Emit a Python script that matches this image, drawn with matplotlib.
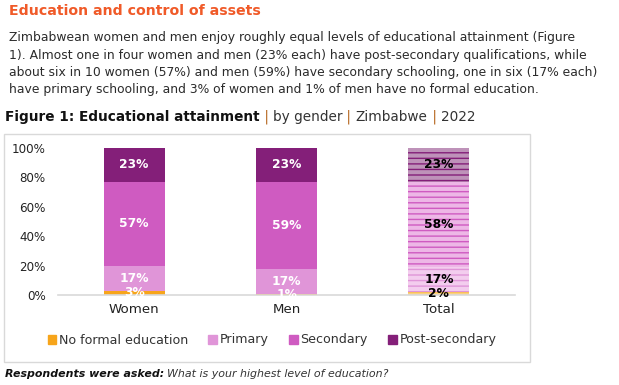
import matplotlib
matplotlib.use("Agg")
import matplotlib.pyplot as plt
from matplotlib.patches import Rectangle

categories = ["Women", "Men", "Total"]
series_names = ["No formal education", "Primary", "Secondary", "Post-secondary"]
no_formal = [3, 1, 2]
primary = [17, 17, 17]
secondary = [57, 59, 58]
post_secondary = [23, 23, 23]
yticks = [0, 20, 40, 60, 80, 100]
ytick_labels = ["0%", "20%", "40%", "60%", "80%", "100%"]

colors = ["#F7A51B", "#E095D8", "#CF5BC1", "#841F79"]
hatch_face = ["#FBD17F", "#F3CDEE", "#EDB7E6", "#BE92B9"]

plt.rcParams['font.family'] = ['DejaVu Sans']
plt.rcParams['hatch.linewidth'] = 1.0

W, H = 619, 385
fig = plt.figure(figsize=(W/100, H/100), dpi=100)

def px(x, y):
    return x / W, 1 - y / H

# Headline
fig.text(*px(9, 11), "Education and control of assets", color="#F05A28",
         fontsize=10.2, fontweight="bold", va="center", ha="left")
body = ["Zimbabwean women and men enjoy roughly equal levels of educational attainment (Figure",
        "1). Almost one in four women and men (23% each) have post-secondary qualifications, while",
        "about six in 10 women (57%) and men (59%) have secondary schooling, one in six (17% each)",
        "have primary schooling, and 3% of women and 1% of men have no formal education."]
for i, line in enumerate(body):
    fig.text(*px(9, 38 + i * 17.3), line, color="#2b2b2b", fontsize=8.95,
             va="center", ha="left")

# Figure title with mixed styles
renderer = fig.canvas.get_renderer()
parts = [("Figure 1: Educational attainment", "bold", "#111111"),
         (" | ", "normal", "#B5651D"), ("by gender", "normal", "#333333"),
         (" | ", "normal", "#B5651D"), ("Zimbabwe", "normal", "#333333"),
         (" | ", "normal", "#B5651D"), ("2022", "normal", "#333333")]
xcur = 5
for txt, wt, col in parts:
    t = fig.text(*px(xcur, 117), txt, fontsize=9.8, fontweight=wt, color=col,
                 va="center", ha="left")
    bb = t.get_window_extent(renderer=renderer)
    xcur += bb.width

# Chart border
fig.patches.append(Rectangle(px(4, 362), 526 / W, (362 - 134) / H,
                             transform=fig.transFigure, fill=False,
                             edgecolor="#D9D9D9", linewidth=1.0))

ax = fig.add_axes([58 / W, 1 - 295 / H, (515 - 58) / W, (295 - 148) / H])
ax.set_xlim(-0.5, 2.5)
ax.set_ylim(0, 100)
for s in ["top", "right", "left"]:
    ax.spines[s].set_visible(False)
ax.spines["bottom"].set_color("#D9D9D9")
ax.spines["bottom"].set_linewidth(1.2)
ax.set_yticks(yticks)
ax.set_yticklabels(ytick_labels, fontsize=8.6, color="#222222")
ax.tick_params(axis="y", length=0, pad=9)
ax.tick_params(axis="x", length=0, pad=6, labelsize=9.6, labelcolor="#222222")
ax.set_xticks(range(3))
ax.set_xticklabels(categories)

data = [no_formal, primary, secondary, post_secondary]
bottoms = [0, 0, 0]
bw = 0.4
for si, vals in enumerate(data):
    for ci, v in enumerate(vals):
        if ci < 2:
            ax.bar(ci, v, bw, bottom=bottoms[ci], color=colors[si], linewidth=0)
            tc = "white"
        else:
            ax.bar(ci, v, bw, bottom=bottoms[ci], facecolor=hatch_face[si],
                   edgecolor=colors[si], hatch="---", linewidth=0)
            tc = "black"
        ax.text(ci, bottoms[ci] + v / 2, f"{v}%", ha="center", va="center",
                color=tc, fontsize=8.8, fontweight="bold")
        bottoms[ci] += v

handles = [Rectangle((0, 0), 1, 1, color=c) for c in colors]
fig.legend(handles, series_names, loc="center", bbox_to_anchor=px(272, 340),
           ncol=4, frameon=False, fontsize=9.1, handlelength=0.7, handleheight=0.7,
           handletextpad=0.2, columnspacing=1.6, labelcolor="#333333")

t = fig.text(*px(5, 374), "Respondents were asked:", fontsize=7.9, fontweight="bold",
             fontstyle="italic", color="#111111", va="center", ha="left")
bb = t.get_window_extent(renderer=renderer)
fig.text(*px(5 + bb.width + 3, 374), "What is your highest level of education?",
         fontsize=7.9, fontstyle="italic", color="#333333", va="center", ha="left")

fig.savefig("out.png", dpi=100)
